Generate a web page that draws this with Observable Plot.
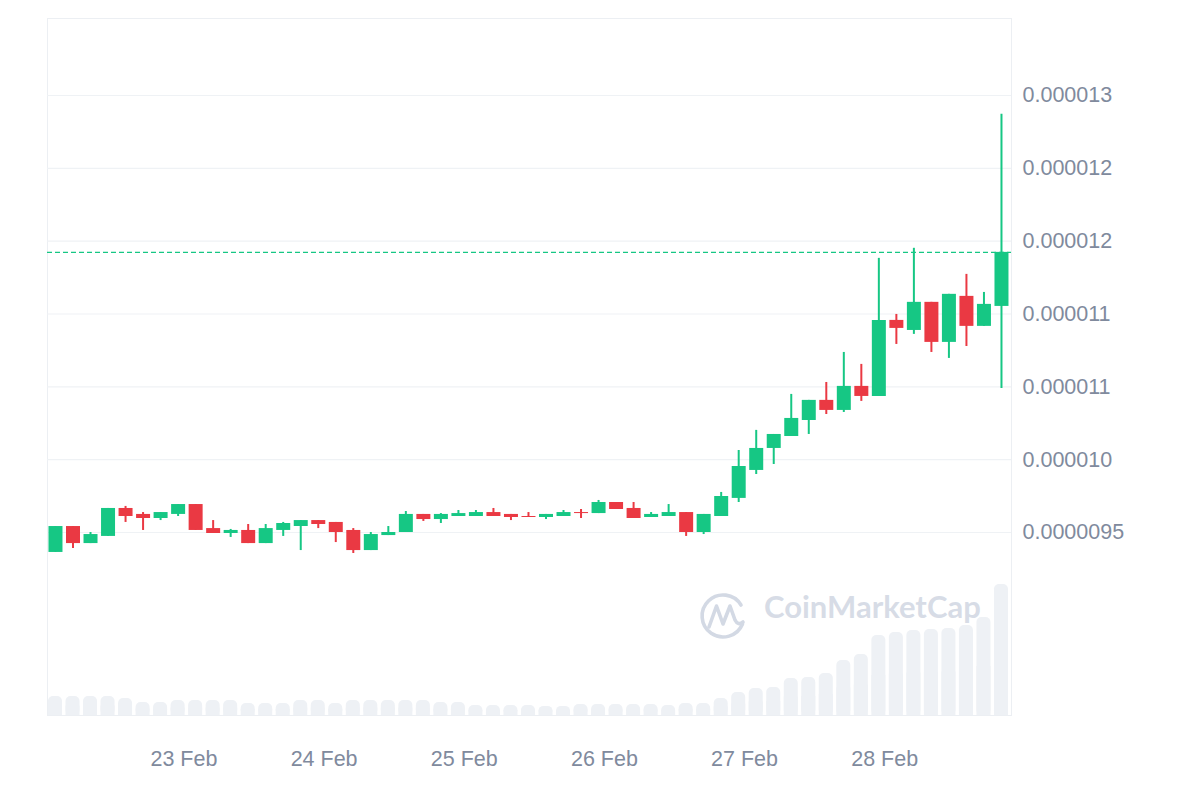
<!DOCTYPE html>
<html>
<head>
<meta charset="utf-8">
<script src="https://cdn.jsdelivr.net/npm/d3@7"></script>
<script src="https://cdn.jsdelivr.net/npm/@observablehq/plot@0.6"></script>
<style>
  html, body { margin: 0; padding: 0; background: #ffffff; }
  #wrap { position: relative; width: 1200px; height: 800px; overflow: hidden; }
  #wrap > svg, #wrap > .layer { position: absolute; left: 0; top: 0; }
</style>
</head>
<body>
<div id="wrap"></div>
<script>
// ---- data (prices in millionths of a dollar) ----
const UNIT = 1e-6;
const times = [
  "2025-02-22T02:00Z","2025-02-22T05:00Z","2025-02-22T08:00Z","2025-02-22T11:00Z","2025-02-22T14:00Z","2025-02-22T17:00Z","2025-02-22T20:00Z","2025-02-22T23:00Z",
  "2025-02-23T02:00Z","2025-02-23T05:00Z","2025-02-23T08:00Z","2025-02-23T11:00Z","2025-02-23T14:00Z","2025-02-23T17:00Z","2025-02-23T20:00Z","2025-02-23T23:00Z",
  "2025-02-24T02:00Z","2025-02-24T05:00Z","2025-02-24T08:00Z","2025-02-24T11:00Z","2025-02-24T14:00Z","2025-02-24T17:00Z","2025-02-24T20:00Z","2025-02-24T23:00Z",
  "2025-02-25T02:00Z","2025-02-25T05:00Z","2025-02-25T08:00Z","2025-02-25T11:00Z","2025-02-25T14:00Z","2025-02-25T17:00Z","2025-02-25T20:00Z","2025-02-25T23:00Z",
  "2025-02-26T02:00Z","2025-02-26T05:00Z","2025-02-26T08:00Z","2025-02-26T11:00Z","2025-02-26T14:00Z","2025-02-26T17:00Z","2025-02-26T20:00Z","2025-02-26T23:00Z",
  "2025-02-27T02:00Z","2025-02-27T05:00Z","2025-02-27T08:00Z","2025-02-27T11:00Z","2025-02-27T14:00Z","2025-02-27T17:00Z","2025-02-27T20:00Z","2025-02-27T23:00Z",
  "2025-02-28T02:00Z","2025-02-28T05:00Z","2025-02-28T08:00Z","2025-02-28T11:00Z","2025-02-28T14:00Z","2025-02-28T17:00Z","2025-02-28T20:00Z"
];
const open = [
  9.363, 9.541, 9.424, 9.473, 9.665, 9.624, 9.596, 9.624, 9.692, 9.527,
  9.493, 9.514, 9.424, 9.514, 9.541, 9.582, 9.569, 9.514, 9.376, 9.479,
  9.500, 9.624, 9.589, 9.610, 9.610, 9.637, 9.624, 9.610, 9.603, 9.610,
  9.637, 9.630, 9.706, 9.665, 9.603, 9.610, 9.637, 9.500, 9.610, 9.734,
  9.926, 10.077, 10.159, 10.269, 10.407, 10.338, 10.503, 10.434, 10.956, 10.887,
  11.080, 10.805, 11.121, 10.915, 11.052
];
const high = [
  9.541, 9.541, 9.500, 9.665, 9.679, 9.637, 9.637, 9.692, 9.692, 9.582,
  9.521, 9.555, 9.555, 9.569, 9.582, 9.582, 9.569, 9.527, 9.500, 9.541,
  9.644, 9.624, 9.630, 9.651, 9.651, 9.665, 9.624, 9.637, 9.624, 9.651,
  9.658, 9.720, 9.706, 9.706, 9.637, 9.692, 9.637, 9.624, 9.775, 10.063,
  10.201, 10.173, 10.448, 10.407, 10.530, 10.736, 10.654, 11.382, 10.997, 11.451,
  11.080, 11.135, 11.272, 11.148, 12.371
];
const low = [
  9.363, 9.390, 9.424, 9.473, 9.569, 9.514, 9.582, 9.610, 9.514, 9.493,
  9.466, 9.424, 9.424, 9.473, 9.376, 9.527, 9.431, 9.356, 9.376, 9.479,
  9.500, 9.576, 9.562, 9.610, 9.610, 9.610, 9.582, 9.603, 9.589, 9.610,
  9.596, 9.630, 9.658, 9.596, 9.603, 9.610, 9.473, 9.486, 9.610, 9.706,
  9.898, 9.967, 10.159, 10.173, 10.310, 10.324, 10.400, 10.434, 10.791, 10.860,
  10.736, 10.695, 10.777, 10.915, 10.489
];
const close = [
  9.541, 9.424, 9.486, 9.665, 9.610, 9.596, 9.637, 9.692, 9.514, 9.493,
  9.514, 9.424, 9.527, 9.562, 9.582, 9.555, 9.500, 9.376, 9.486, 9.500,
  9.624, 9.589, 9.624, 9.630, 9.637, 9.610, 9.603, 9.603, 9.624, 9.637,
  9.630, 9.706, 9.658, 9.596, 9.624, 9.637, 9.500, 9.624, 9.747, 9.953,
  10.077, 10.173, 10.283, 10.407, 10.338, 10.503, 10.434, 10.956, 10.901, 11.080,
  10.805, 11.135, 10.915, 11.066, 11.423
];
// volume (relative units)
const volume = [
  19, 19, 19, 19, 17, 13, 13, 15, 15, 15,
  15, 12, 12, 12, 15, 15, 12, 15, 15, 15,
  15, 15, 13, 13, 10, 10, 10, 10, 9, 9,
  11, 11, 11, 11, 11, 10, 12, 12, 17, 23,
  27, 28, 37, 38, 42, 55, 61, 80, 83, 85,
  86, 87, 90, 98, 131
];
const yTicks = [9.5e-6, 10e-6, 10.5e-6, 11e-6, 11.5e-6, 12e-6, 12.5e-6];
const yTickLabels = ["0.0000095", "0.000010", "0.000011", "0.000011", "0.000012", "0.000012", "0.000013"];
const xTickDates = ["2025-02-23", "2025-02-24", "2025-02-25", "2025-02-26", "2025-02-27", "2025-02-28"];
const xTickLabels = ["23 Feb", "24 Feb", "25 Feb", "26 Feb", "27 Feb", "28 Feb"];

// ---- styles ----
const GREEN = "#16c784";
const RED = "#ea3943";
const GRID = "#eff2f5";
const TEXT = "#808a9d";
const VOL = "#eef1f5";
const FONT = "'Liberation Sans', Arial, Helvetica, sans-serif";

// ---- build rows ----
const rows = times.map((t, i) => ({
  date: new Date(t),
  open: open[i] * UNIT,
  high: high[i] * UNIT,
  low: low[i] * UNIT,
  close: close[i] * UNIT,
  volume: volume[i],
  dir: close[i] >= open[i] ? "up" : "down"
}));
rows.forEach(d => {
  d.x1 = d3.utcMinute.offset(d.date, -72);
  d.x2 = d3.utcMinute.offset(d.date, 72);
});
const lastClose = rows[rows.length - 1].close;
const xTicks = xTickDates.map(s => new Date(s));
const xDomain = [d3.utcMinute.offset(rows[0].date, -82), d3.utcMinute.offset(rows[rows.length - 1].date, 103)];

const common = {
  width: 1200, height: 800,
  marginLeft: 47, marginRight: 189, marginTop: 18, marginBottom: 85,
  x: { type: "utc", domain: xDomain }
};

// volume layer (behind)
const volPlot = Plot.plot({
  ...common,
  style: { background: "transparent" },
  y: { domain: [0, d3.max(volume)], range: [715, 584], axis: null },
  x: { ...common.x, axis: null },
  marks: [
    Plot.rect(rows, { x1: "x1", x2: "x2", y1: 0, y2: "volume", fill: VOL, rx: 5 }),
    Plot.rect(rows, { x1: "x1", x2: "x2", y1: 0, y2: d => d.volume / 2, fill: VOL })
  ]
});

// price layer
const pricePlot = Plot.plot({
  ...common,
  style: { background: "transparent", fontFamily: FONT, color: TEXT },
  y: { domain: [yTicks[0], yTicks[yTicks.length - 1]], range: [532, 95] },
  color: { domain: ["up", "down"], range: [GREEN, RED] },
  marks: [
    Plot.frame({ stroke: "#eceff3" }),
    Plot.gridY({ ticks: yTicks, stroke: GRID, strokeOpacity: 1, strokeWidth: 1.2 }),
    Plot.ruleY([lastClose], { stroke: GREEN, strokeWidth: 1.4, strokeDasharray: "5,3" }),
    Plot.ruleX(rows, { x: "date", y1: "low", y2: "high", stroke: "dir", strokeWidth: 2 }),
    Plot.ruleX(rows, { x: "date", y1: "open", y2: "close", stroke: "dir", strokeWidth: 14 }),
    Plot.axisY({
      ticks: yTicks, anchor: "right", tickSize: 0, tickPadding: 11,
      tickFormat: d => yTickLabels[yTicks.indexOf(d)],
      fontSize: 21.5, fill: TEXT, label: null
    }),
    Plot.axisX({
      ticks: xTicks, anchor: "bottom", tickSize: 0, tickPadding: 35,
      tickFormat: d => xTickLabels[xTicks.findIndex(t => +t === +d)],
      fontSize: 21.5, fill: TEXT, label: null
    })
  ]
});

const wrap = document.getElementById("wrap");
wrap.appendChild(volPlot);
wrap.appendChild(pricePlot);

// watermark
const ns = "http://www.w3.org/2000/svg";
const wm = document.createElementNS(ns, "svg");
wm.setAttribute("width", 1200);
wm.setAttribute("height", 800);
wm.setAttribute("class", "layer");
wm.style.pointerEvents = "none";
wm.innerHTML = `
  <g fill="none" stroke="#d3d9e4" stroke-width="3.6" stroke-linecap="round" stroke-linejoin="round">
    <path d="M742.5,624 A21,21 0 1 1 741,605"/>
    <path d="M709,627 L716.5,606 L723,624 L730,606 L735,620 Q738,626 743,622"/>
  </g>
  <text x="764" y="618" font-family="Lato, 'Open Sans', sans-serif" font-weight="700" font-size="31" fill="#d3d9e4" fill-opacity="0.92">CoinMarketCap</text>
`;
wrap.appendChild(wm);
</script>
</body>
</html>
